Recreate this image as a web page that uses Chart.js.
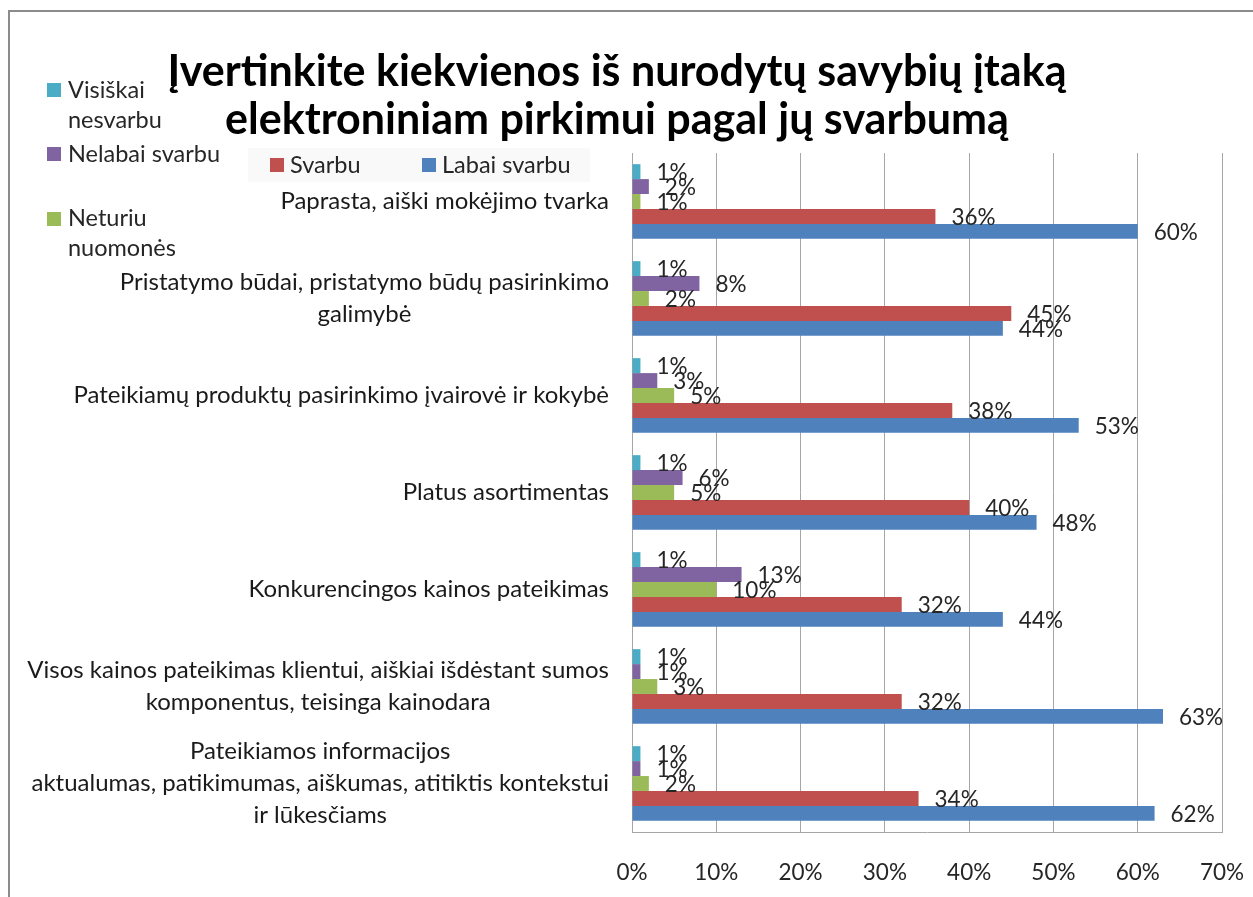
<!DOCTYPE html>
<html>
<head>
<meta charset="utf-8">
<script src="https://cdn.jsdelivr.net/npm/chart.js@4.4.0/dist/chart.umd.min.js"></script>
<style>
  html, body { margin: 0; padding: 0; background: #ffffff; }
  #wrap { position: relative; width: 1253px; height: 897px; overflow: hidden; }
  #frame { position: absolute; left: 8px; top: 10px; width: 1300px; height: 1000px; border-left: 2px solid #8c8c8c; border-top: 2px solid #8c8c8c; box-sizing: border-box; pointer-events: none; }
  canvas { position: absolute; left: 0; top: 0; }
</style>
</head>
<body>
<div id="wrap">
  <div id="frame"></div>
  <canvas id="c" width="1253" height="897"></canvas>
</div>
<script>
// ---- data ----
const categories = [
  ["Paprasta, aiški mokėjimo tvarka"],
  ["Pristatymo būdai, pristatymo būdų pasirinkimo", "galimybė"],
  ["Pateikiamų produktų pasirinkimo įvairovė ir kokybė"],
  ["Platus asortimentas"],
  ["Konkurencingos kainos pateikimas"],
  ["Visos kainos pateikimas klientui, aiškiai išdėstant sumos", "komponentus, teisinga kainodara"],
  ["Pateikiamos informacijos", "aktualumas, patikimumas, aiškumas, atitiktis kontekstui", "ir lūkesčiams"]
];
const seriesNames = ["Visiškai nesvarbu", "Nelabai svarbu", "Neturiu nuomonės", "Svarbu", "Labai svarbu"];
const visiskaiNesvarbu = [1, 1, 1, 1, 1, 1, 1];
const nelabaiSvarbu    = [2, 8, 3, 6, 13, 1, 1];
const neturiuNuomones  = [1, 2, 5, 5, 10, 3, 2];
const svarbu           = [36, 45, 38, 40, 32, 32, 34];
const labaiSvarbu      = [60, 44, 53, 48, 44, 63, 62];
const xTicks = [0, 10, 20, 30, 40, 50, 60, 70];
const titleLines = ["Įvertinkite kiekvienos iš nurodytų savybių įtaką", "elektroniniam pirkimui pagal jų svarbumą"];

const colors = ["#4BACC6", "#8064A2", "#9BBB59", "#C0504D", "#4F81BD"];
const FONT = "Lato, 'Open Sans', sans-serif";

const seriesValues = [visiskaiNesvarbu, nelabaiSvarbu, neturiuNuomones, svarbu, labaiSvarbu];

// legend layout (custom, mimicking original placement)
const legendItems = [
  { idx: 0, sq: [47, 83], lines: [["Visiškai", 68, 90], ["nesvarbu", 68, 120]] },
  { idx: 1, sq: [47, 147], lines: [["Nelabai svarbu", 68, 154]] },
  { idx: 2, sq: [47, 212], lines: [["Neturiu", 68, 218], ["nuomonės", 68, 248]] },
  { idx: 3, sq: [270, 158], lines: [["Svarbu", 290, 165]] },
  { idx: 4, sq: [422, 158], lines: [["Labai svarbu", 442, 165]] }
];

const legendPlugin = {
  id: 'customLegend',
  beforeDraw(chart) {
    const ctx = chart.ctx;
    ctx.save();
    ctx.fillStyle = '#f9f9f9';
    ctx.fillRect(248, 148, 342, 34);
    ctx.restore();
  },
  afterDraw(chart) {
    const ctx = chart.ctx;
    ctx.save();
    ctx.font = "23.5px " + FONT;
    ctx.textBaseline = 'middle';
    ctx.textAlign = 'left';
    legendItems.forEach(it => {
      ctx.fillStyle = chart.data.datasets[it.idx].backgroundColor;
      ctx.fillRect(it.sq[0], it.sq[1], 14, 14);
      ctx.fillStyle = '#262626';
      it.lines.forEach(l => ctx.fillText(l[0], l[1], l[2]));
    });
    ctx.restore();
  }
};

const yLabelPlugin = {
  id: 'yLabels',
  afterDraw(chart) {
    const ctx = chart.ctx;
    const ys = chart.scales.y;
    const right = chart.chartArea.left - 23;
    const lh = 32;
    ctx.save();
    ctx.font = "24px " + FONT;
    ctx.fillStyle = '#1a1a1a';
    ctx.textBaseline = 'middle';
    ctx.textAlign = 'center';
    chart.data.labels.forEach((lab, i) => {
      const lines = Array.isArray(lab) ? lab : [lab];
      const w = Math.max(...lines.map(s => ctx.measureText(s).width));
      const cx = right - w / 2;
      const cy = ys.getPixelForTick(i);
      lines.forEach((s, j) => {
        ctx.fillText(s, cx, cy + (j - (lines.length - 1) / 2) * lh);
      });
    });
    ctx.restore();
  }
};

const valueLabelPlugin = {
  id: 'valueLabels',
  afterDatasetsDraw(chart) {
    const ctx = chart.ctx;
    ctx.save();
    ctx.font = "22.5px " + FONT;
    ctx.fillStyle = '#262626';
    ctx.textBaseline = 'middle';
    ctx.textAlign = 'left';
    chart.data.datasets.forEach((ds, di) => {
      const meta = chart.getDatasetMeta(di);
      meta.data.forEach((bar, i) => {
        ctx.fillText(ds.data[i] + '%', bar.x + 16, bar.y + 1);
      });
    });
    ctx.restore();
  }
};

new Chart(document.getElementById('c'), {
  type: 'bar',
  data: {
    labels: categories,
    datasets: seriesNames.map((n, i) => ({
      label: n,
      data: seriesValues[i],
      backgroundColor: colors[i],
      borderWidth: 0,
      categoryPercentage: 0.77,
      barPercentage: 1.0
    }))
  },
  options: {
    indexAxis: 'y',
    responsive: false,
    animation: false,
    layout: { padding: { left: 12, right: 31, top: 0, bottom: 0 } },
    plugins: {
      legend: { display: false },
      tooltip: { enabled: false },
      title: {
        display: true,
        text: titleLines,
        color: '#000000',
        font: { family: FONT, size: 43, weight: 'bold', lineHeight: 48 / 43 },
        padding: { top: 48, bottom: 9 }
      }
    },
    scales: {
      x: {
        min: 0, max: 70,
        afterBuildTicks(scale) { scale.ticks = xTicks.map(v => ({ value: v })); },
        ticks: {
          callback: v => v + '%',
          color: '#262626',
          font: { family: FONT, size: 22.5 },
          padding: 27,
          maxRotation: 0
        },
        grid: { color: '#a6a6a6', lineWidth: 1, drawTicks: false },
        border: { display: true, color: '#a6a6a6', width: 1 },
        afterFit(scale) { scale.height = 65; scale.paddingLeft = 0; scale.paddingRight = 0; }
      },
      y: {
        ticks: { display: false },
        grid: { display: false },
        border: { display: true, color: '#a6a6a6', width: 1 },
        afterFit(scale) { scale.width = 620; scale.paddingTop = 0; scale.paddingBottom = 0; }
      }
    }
  },
  plugins: [legendPlugin, yLabelPlugin, valueLabelPlugin]
});
</script>
</body>
</html>
